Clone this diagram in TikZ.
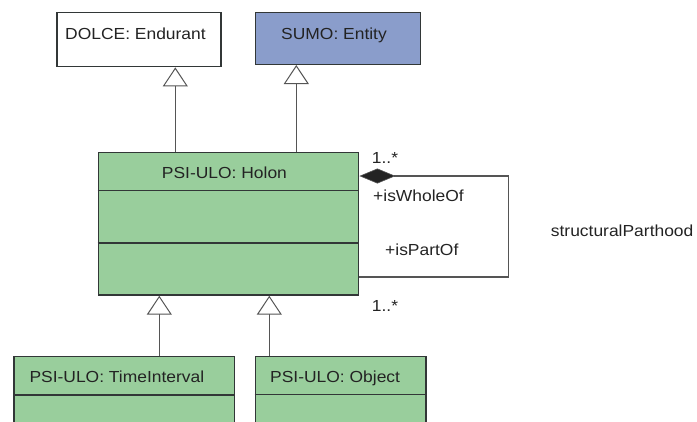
\documentclass[tikz,border=0pt]{standalone}
\usepackage{fontspec}
\setmainfont{Liberation Sans}[FakeStretch=1.09]
\usetikzlibrary{arrows.meta,calc}

\definecolor{classgreen}{RGB}{153,206,156}
\definecolor{classblue}{RGB}{138,157,203}
\definecolor{borderdark}{RGB}{50,55,55}
\definecolor{linegray}{RGB}{85,85,85}
\definecolor{textdark}{RGB}{35,35,35}

\tikzset{
  classbox/.style={draw=borderdark, line width=1.4pt, inner sep=0pt, rectangle},
  divider/.style={draw=borderdark, line width=1.2pt},
  lbl/.style={inner sep=0pt, text=textdark, font=\fontsize{16pt}{18pt}\selectfont},
  gen/.style={draw=linegray, line width=1.1pt,
    -{Triangle[width=25pt,length=19pt,fill=white,line width=1pt]}},
  assoc/.style={draw=linegray, line width=1.1pt},
  compos/.style={draw=linegray, line width=1.1pt,
    {Diamond[length=36pt,width=15pt,fill=textdark,line width=0.6pt]}-}
}

\begin{document}
\begin{tikzpicture}[x=1pt,y=-1pt]
  \useasboundingbox (0,0) rectangle (697,421);
  \clip (0,0) rectangle (697,421);

  % upper-level classes
  \node[classbox, fill=white, minimum width=164pt, minimum height=54.4pt] (dolce) at (139,39.5) {};
  \node[lbl, anchor=base west] (dolcet) at (65,39.3) {DOLCE: Endurant};

  \node[classbox, fill=classblue, minimum width=165pt, minimum height=52pt] (sumo) at (337.8,38.3) {};
  \node[lbl, anchor=base west] (sumot) at (281,39.3) {SUMO: Entity};

  % Holon class with its two compartments
  \node[classbox, fill=classgreen, minimum width=260.4pt, minimum height=142.7pt] (holon) at (228.5,223.65) {};
  \node[lbl, anchor=base west] (holont) at (161.7,178.3) {PSI-ULO: Holon};
  \draw[divider] ($(holon.north west)+(0,38.7)$) -- ($(holon.north east)+(0,38.7)$);
  \draw[divider] ($(holon.north west)+(0,91.4)$) -- ($(holon.north east)+(0,91.4)$);

  % subclasses
  \node[classbox, fill=classgreen, minimum width=220.3pt, minimum height=83.3pt] (timeint) at (124.15,398.35) {};
  \node[lbl, anchor=base west] (timeintt) at (29.3,382.7) {PSI-ULO: TimeInterval};
  \draw[divider] ($(timeint.north west)+(0,39)$) -- ($(timeint.north east)+(0,39)$);

  \node[classbox, fill=classgreen, minimum width=170.7pt, minimum height=83.3pt] (object) at (340.65,398.35) {};
  \node[lbl, anchor=base west] (objectt) at (270,382.7) {PSI-ULO: Object};
  \draw[divider] ($(object.north west)+(0,38.5)$) -- ($(object.north east)+(0,38.5)$);

  % generalisations
  \coordinate (g1) at ($(holon.north west)+(77.7,0)$);
  \coordinate (g2) at ($(holon.north west)+(198.7,0)$);
  \coordinate (g3) at ($(timeint.north west)+(146,0)$);
  \coordinate (g4) at ($(object.north west)+(14.7,0)$);
  \draw[gen] (g1) -- (g1 |- dolce.south);
  \draw[gen] (g2) -- (g2 |- sumo.south);
  \draw[gen] (g3) -- (g3 |- holon.south);
  \draw[gen] (g4) -- (g4 |- holon.south);

  % structuralParthood self-association
  \coordinate (whole) at ($(holon.north east)+(0,24.4)$);
  \coordinate (part) at ($(holon.north east)+(0,125.4)$);
  \coordinate (loopa) at ($(whole)+(149,0)$);
  \coordinate (loopb) at ($(part)+(149,0)$);
  \draw[compos] (whole) -- (loopa) -- (loopb) -- (part);

  \node[lbl, anchor=base west] (m1) at (371.7,163.3) {1..*};
  \node[lbl, anchor=base west] (r1) at (373,201) {+isWholeOf};
  \node[lbl, anchor=base west] (r2) at (385,255) {+isPartOf};
  \node[lbl, anchor=base west] (m2) at (371.7,311.7) {1..*};
  \node[lbl, anchor=base west] (assocname) at (550.7,236.7) {structuralParthood};
\end{tikzpicture}
\end{document}
